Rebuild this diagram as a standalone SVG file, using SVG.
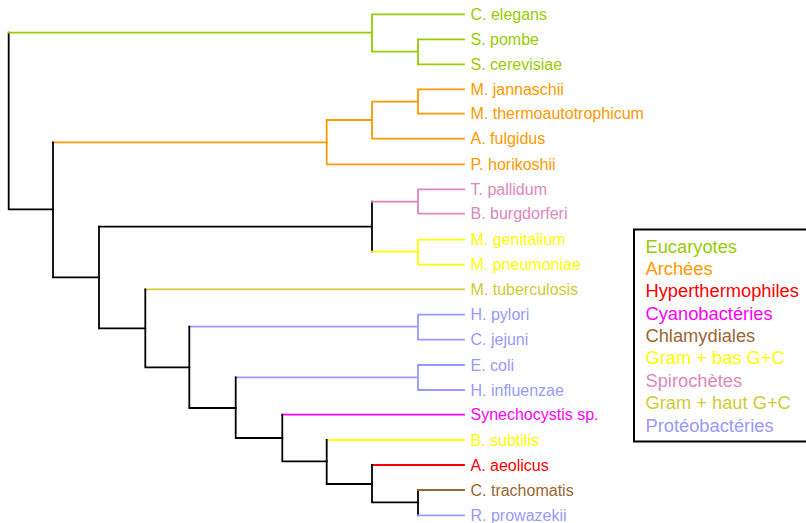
<svg xmlns="http://www.w3.org/2000/svg" width="806" height="523" viewBox="0 0 806 523">
<style>
  path { fill: none; stroke-width: 1.8; stroke-linecap: square; }
  .k { stroke: #000000; }
  .eu { stroke: #99cc00; } .ar { stroke: #ff9900; } .hy { stroke: #ff0000; }
  .cy { stroke: #ff00ff; } .ch { stroke: #996633; } .gb { stroke: #ffff00; }
  .sp { stroke: #dd88bb; } .gh { stroke: #cccc33; } .pr { stroke: #9999ff; }
  text { font-family: "Liberation Sans", Arial, sans-serif; font-size: 16px; }
  .leg text { font-size: 18.3px; }
  .teu { fill: #99cc00; } .tar { fill: #ff9900; } .thy { fill: #ff0000; }
  .tcy { fill: #ff00ff; } .tch { fill: #996633; } .tgb { fill: #ffff00; }
  .tsp { fill: #dd88bb; } .tgh { fill: #cccc33; } .tpr { fill: #9999ff; }
</style>
<rect width="806" height="523" fill="#ffffff"/>
<g id="connectors">
  <path class="k" d="M53,209.3 H8.7 V32.7"/>
  <path class="eu" d="M8.7,32.7 H372"/>
  <path class="eu" d="M464,14.3 H372 V51.7 H418"/>
  <path class="eu" d="M464,39.3 H418 V64.3 H464"/>
  <path class="ar" d="M53,142.3 H326.7"/>
  <path class="ar" d="M372,120 H326.7 V164.3 H464"/>
  <path class="ar" d="M418,101.7 H372 V138.7 H464"/>
  <path class="ar" d="M464,89.3 H418 V113.7 H464"/>
  <path class="k" d="M53,142.3 V277.3 H99"/>
  <path class="k" d="M99,226.7 V328.3 H145.3"/>
  <path class="k" d="M99,226.7 H372"/>
  <path class="k" d="M372,201.7 V251.7"/>
  <path class="sp" d="M372,201.7 H418"/>
  <path class="sp" d="M464,189.3 H418 V213.7 H464"/>
  <path class="gb" d="M372,251.7 H418"/>
  <path class="gb" d="M464,239.7 H418 V264.7 H464"/>
  <path class="gh" d="M145.3,289.3 H464"/>
  <path class="k" d="M145.3,289.3 V367.3 H189.3"/>
  <path class="pr" d="M189.3,326.7 H418"/>
  <path class="pr" d="M464,314.7 H418 V339.7 H464"/>
  <path class="k" d="M189.3,326.7 V408 H235.7"/>
  <path class="pr" d="M235.7,377.3 H418"/>
  <path class="pr" d="M464,365 H418 V390 H464"/>
  <path class="k" d="M235.7,377.3 V438 H282.3"/>
  <path class="cy" d="M282.3,414.7 H464"/>
  <path class="k" d="M282.3,414.7 V461.3 H326.7"/>
  <path class="gb" d="M326.7,440 H464"/>
  <path class="k" d="M326.7,440 V484 H372"/>
  <path class="hy" d="M372,465 H464"/>
  <path class="k" d="M372,465 V502.3 H418"/>
  <path class="k" d="M418,490 V515.3"/>
  <path class="ch" d="M418,490 H464"/>
  <path class="pr" d="M418,515.3 H464"/>
</g>
<g id="leaves">
  <g id="c-elegans"><text class="teu" x="470.5" y="19.8">C. elegans</text></g>
  <g id="s-pombe"><text class="teu" x="470.5" y="44.8">S. pombe</text></g>
  <g id="s-cerevisiae"><text class="teu" x="470.5" y="69.8">S. cerevisiae</text></g>
  <g id="m-jannaschii"><text class="tar" x="470.5" y="94.8">M. jannaschii</text></g>
  <g id="m-thermo"><text class="tar" x="470.5" y="119.2">M. thermoautotrophicum</text></g>
  <g id="a-fulgidus"><text class="tar" x="470.5" y="144.2">A. fulgidus</text></g>
  <g id="p-horikoshii"><text class="tar" x="470.5" y="169.8">P. horikoshii</text></g>
  <g id="t-pallidum"><text class="tsp" x="470.5" y="194.8">T. pallidum</text></g>
  <g id="b-burgdorferi"><text class="tsp" x="470.5" y="219.2">B. burgdorferi</text></g>
  <g id="m-genitalium"><text class="tgb" x="470.5" y="245.2">M. genitalium</text></g>
  <g id="m-pneumoniae"><text class="tgb" x="470.5" y="270.2">M. pneumoniae</text></g>
  <g id="m-tuberculosis"><text class="tgh" x="470.5" y="294.8">M. tuberculosis</text></g>
  <g id="h-pylori"><text class="tpr" x="470.5" y="320.2">H. pylori</text></g>
  <g id="c-jejuni"><text class="tpr" x="470.5" y="345.2">C. jejuni</text></g>
  <g id="e-coli"><text class="tpr" x="470.5" y="370.5">E. coli</text></g>
  <g id="h-influenzae"><text class="tpr" x="470.5" y="395.5">H. influenzae</text></g>
  <g id="synechocystis"><text class="tcy" x="470.5" y="420.2">Synechocystis sp.</text></g>
  <g id="b-subtilis"><text class="tgb" x="470.5" y="445.5">B. subtilis</text></g>
  <g id="a-aeolicus"><text class="thy" x="470.5" y="470.5">A. aeolicus</text></g>
  <g id="c-trachomatis"><text class="tch" x="470.5" y="495.5">C. trachomatis</text></g>
  <g id="r-prowazekii"><text class="tpr" x="470.5" y="520.8">R. prowazekii</text></g>
</g>
<g id="legend" class="leg">
  <rect x="634" y="229.5" width="190" height="212" fill="#ffffff" stroke="#000000" stroke-width="2"/>
  <text class="teu" x="645.5" y="252.7">Eucaryotes</text>
  <text class="tar" x="645.5" y="275">Archées</text>
  <text class="thy" x="645.5" y="297.4">Hyperthermophiles</text>
  <text class="tcy" x="645.5" y="319.7">Cyanobactéries</text>
  <text class="tch" x="645.5" y="342.1">Chlamydiales</text>
  <text class="tgb" x="645.5" y="364.4">Gram + bas G+C</text>
  <text class="tsp" x="645.5" y="386.8">Spirochètes</text>
  <text class="tgh" x="645.5" y="409.1">Gram + haut G+C</text>
  <text class="tpr" x="645.5" y="431.5">Protéobactéries</text>
</g>
</svg>
